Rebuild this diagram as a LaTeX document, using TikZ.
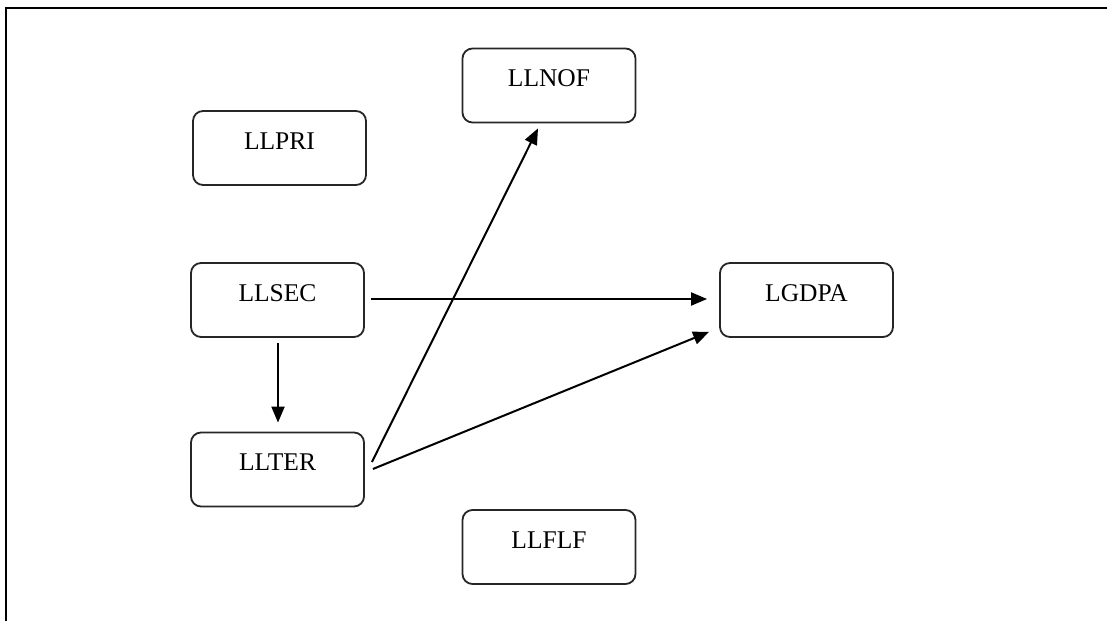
\documentclass[tikz,border=0pt]{standalone}
\usepackage{fontspec}
\setmainfont{Liberation Serif}
\usetikzlibrary{arrows.meta}
\begin{document}
\begin{tikzpicture}[x=1pt,y=1pt,
  box/.style={draw=black!85, line width=1.8pt, rounded corners=10pt,
    minimum width=173pt, minimum height=74pt, inner sep=0pt,
    text height=21pt, text depth=18.5pt,
    font=\fontsize{25.5}{30}\selectfont},
  arr/.style={line width=2pt, -{Triangle[length=16pt,width=13pt]}}]
\useasboundingbox (0,0) rectangle (1107,621);
\draw[line width=2.5pt] (6,0) -- (6,613) -- (1107,613);
\node[box] (llpri) at (279.5,473) {LLPRI};
\node[box] (llnof) at (549,535.5) {LLNOF};
\node[box] (llsec) at (277.5,321) {LLSEC};
\node[box] (llter) at (277.5,151.5) {LLTER};
\node[box] (lgdpa) at (806.5,321) {LGDPA};
\node[box] (llflf) at (549,74) {LLFLF};
\draw[arr] ([xshift=6pt,yshift=1pt]llsec.east) -- ([xshift=-12pt,yshift=1pt]lgdpa.west);
\draw[arr] ([yshift=-5pt,xshift=0.5pt]llsec.south) -- ([yshift=9pt,xshift=0.5pt]llter.north);
\draw[arr] ([xshift=7pt,yshift=7.5pt]llter.east) -- ([xshift=-11pt,yshift=-5pt]llnof.south);
\draw[arr] ([xshift=8pt,yshift=0.5pt]llter.east) -- ([xshift=-10pt,yshift=6pt]lgdpa.south west);
\end{tikzpicture}
\end{document}
